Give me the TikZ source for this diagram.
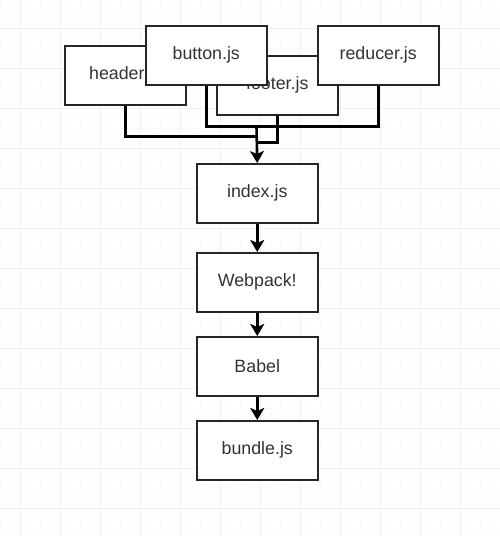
\documentclass[tikz,border=0pt]{standalone}
\usepackage{fontspec}
\setmainfont{Liberation Sans}
\usetikzlibrary{arrows.meta}
\begin{document}
\begin{tikzpicture}[x=1pt,y=-1pt,
  box/.style={draw=black!85,line width=1.5pt,fill=white,minimum width=121pt,minimum height=59pt,inner sep=0pt,anchor=north west,font=\fontsize{17.8}{20}\selectfont,text=black!80},
  conn/.style={draw=black,line width=2.6pt},
  arr/.style={conn,-{Stealth[length=12pt,width=14pt,inset=3pt]}},
  minorgrid/.style={draw=black!2.5,line width=0.6pt},
  majorgrid/.style={draw=black!6,line width=0.8pt}]
\useasboundingbox (0,0) rectangle (500,536);
\fill[white] (0,0) rectangle (500,536);
% grid
\foreach \x in {0,10,...,500} \draw[minorgrid] (\x,0) -- (\x,536);
\foreach \y in {8,18,...,536} \draw[minorgrid] (0,\y) -- (500,\y);
\foreach \x in {20,60,...,500} \draw[majorgrid] (\x,0) -- (\x,536);
\foreach \y in {28,68,...,536} \draw[majorgrid] (0,\y) -- (500,\y);
% boxes
\node[box] (header) at (64,45) {header.js};
\node[box] (footer) at (216,55) {footer.js};
\node[box] (button) at (145,25) {button.js};
\node[box] (reducer) at (317,25) {reducer.js};
\node[box] (index) at (196,163) {index.js};
\node[box] (webpack) at (196,252) {Webpack!};
\node[box] (babel) at (196,336) {Babel};
\node[box] (bundle) at (196,420) {bundle.js};
% junctions
\coordinate (jb) at (256.5,126.7);
\coordinate (jh) at (256.5,136.7);
\coordinate (jf) at (256.5,142.7);
% connectors
\draw[conn] (header.south) |- (jh);
\draw[conn] (button.south) |- (jb) -| (reducer.south);
\draw[conn] (footer.south) |- (jf);
\draw[arr] (jb) -- (index.north);
\draw[arr] (index.south) -- (webpack.north);
\draw[arr] (webpack.south) -- (babel.north);
\draw[arr] (babel.south) -- (bundle.north);
\end{tikzpicture}
\end{document}
